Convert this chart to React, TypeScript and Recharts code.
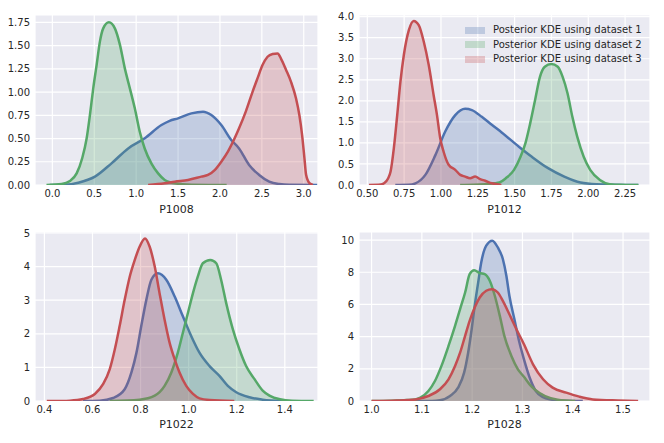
import { useMemo } from "react";
import { AreaChart, Area, XAxis, YAxis, CartesianGrid, Legend, Label } from "recharts";

const seriesNames = [
  "Posterior KDE using dataset 1",
  "Posterior KDE using dataset 2",
  "Posterior KDE using dataset 3",
];
const seriesColors = ["#4C72B0", "#55A868", "#C44E52"];

// P1008
const p1008X1 = [-0.03, 0.15, 0.31, 0.508, 0.706, 0.905, 1.103, 1.302, 1.4, 1.5, 1.659, 1.798, 1.897, 2.016, 2.135, 2.228, 2.348, 2.468, 2.588, 2.708, 2.83, 3.16];
const p1008Y1 = [0, 0.003, 0.025, 0.09, 0.233, 0.394, 0.502, 0.645, 0.69, 0.717, 0.771, 0.789, 0.753, 0.645, 0.484, 0.394, 0.215, 0.108, 0.036, 0.01, 0.002, 0];
const p1008X2 = [-0.07, 0.111, 0.21, 0.29, 0.357, 0.409, 0.448, 0.488, 0.528, 0.567, 0.607, 0.675, 0.746, 0.806, 0.865, 0.925, 0.984, 1.044, 1.103, 1.183, 1.262, 1.341, 1.46, 1.659, 2.08];
const p1008Y2 = [0, 0.01, 0.043, 0.125, 0.29, 0.5, 0.75, 1.04, 1.29, 1.54, 1.685, 1.75, 1.685, 1.51, 1.255, 1.04, 0.825, 0.57, 0.39, 0.23, 0.125, 0.054, 0.018, 0.003, 0];
const p1008X3 = [1.143, 1.341, 1.46, 1.619, 1.778, 1.857, 1.937, 2.016, 2.095, 2.175, 2.228, 2.308, 2.388, 2.448, 2.508, 2.568, 2.628, 2.688, 2.728, 2.788, 2.848, 2.908, 2.948, 2.98, 3.008, 3.028, 3.068, 3.11];
const p1008Y3 = [0, 0.018, 0.036, 0.054, 0.09, 0.108, 0.161, 0.251, 0.359, 0.502, 0.61, 0.79, 1.0, 1.147, 1.29, 1.38, 1.41, 1.416, 1.36, 1.24, 1.11, 0.93, 0.75, 0.54, 0.29, 0.11, 0.02, 0];

// P1012
const p1012X1 = [0.69, 0.78, 0.827, 0.894, 0.962, 1.029, 1.097, 1.164, 1.21, 1.277, 1.345, 1.412, 1.529, 1.617, 1.727, 1.837, 1.947, 2.057, 2.34];
const p1012Y1 = [0, 0.005, 0.04, 0.24, 0.71, 1.27, 1.66, 1.81, 1.78, 1.62, 1.43, 1.25, 0.91, 0.67, 0.4, 0.2, 0.06, 0.02, 0];
const p1012X2 = [1.13, 1.22, 1.3, 1.36, 1.397, 1.44, 1.496, 1.54, 1.573, 1.606, 1.639, 1.672, 1.705, 1.749, 1.793, 1.826, 1.859, 1.892, 1.925, 1.969, 2.013, 2.079, 2.145, 2.22, 2.34];
const p1012Y2 = [0, 0.005, 0.02, 0.04, 0.06, 0.16, 0.36, 0.67, 0.99, 1.47, 2.02, 2.57, 2.81, 2.875, 2.81, 2.57, 2.18, 1.62, 1.15, 0.67, 0.36, 0.12, 0.02, 0.003, 0];
const p1012X3 = [0.511, 0.59, 0.613, 0.64, 0.658, 0.68, 0.703, 0.725, 0.748, 0.782, 0.815, 0.849, 0.883, 0.917, 0.95, 0.973, 0.995, 1.018, 1.052, 1.097, 1.131, 1.164, 1.198, 1.232, 1.266, 1.3, 1.345, 1.41];
const p1012Y3 = [0, 0.01, 0.04, 0.15, 0.32, 0.87, 1.66, 2.46, 3.09, 3.68, 3.9, 3.8, 3.41, 2.85, 2.14, 1.66, 1.11, 0.79, 0.48, 0.36, 0.24, 0.2, 0.16, 0.2, 0.14, 0.1, 0.04, 0];

// P1022
const p1022X1 = [0.56, 0.63, 0.686, 0.734, 0.762, 0.783, 0.803, 0.824, 0.845, 0.872, 0.907, 0.942, 0.976, 1.011, 1.045, 1.087, 1.128, 1.163, 1.198, 1.253, 1.308, 1.39];
const p1022Y1 = [0, 0.01, 0.09, 0.35, 0.85, 1.44, 2.23, 3.01, 3.61, 3.8, 3.61, 3.11, 2.52, 1.93, 1.44, 1.04, 0.75, 0.45, 0.26, 0.11, 0.04, 0];
const p1022X2 = [0.672, 0.796, 0.859, 0.9, 0.928, 0.955, 0.976, 0.997, 1.018, 1.038, 1.059, 1.09, 1.115, 1.135, 1.156, 1.184, 1.211, 1.239, 1.274, 1.308, 1.336, 1.38, 1.43, 1.52];
const p1022Y2 = [0, 0.04, 0.16, 0.45, 0.85, 1.44, 2.03, 2.62, 3.21, 3.7, 4.1, 4.2, 4.1, 3.61, 2.92, 2.13, 1.54, 1.04, 0.65, 0.31, 0.16, 0.05, 0.01, 0];
const p1022X3 = [0.41, 0.47, 0.506, 0.561, 0.61, 0.644, 0.672, 0.693, 0.713, 0.734, 0.755, 0.776, 0.796, 0.8185, 0.838, 0.859, 0.879, 0.9, 0.921, 0.942, 0.962, 0.99, 1.018, 1.045, 1.087, 1.19];
const p1022Y3 = [0, 0.003, 0.01, 0.06, 0.21, 0.5, 0.95, 1.54, 2.23, 3.01, 3.7, 4.2, 4.59, 4.84, 4.59, 4.0, 3.21, 2.42, 1.73, 1.24, 0.85, 0.45, 0.21, 0.08, 0.03, 0];

// P1028
const p1028X1 = [1.08, 1.12, 1.136, 1.156, 1.172, 1.184, 1.192, 1.199, 1.205, 1.212, 1.218, 1.228, 1.24, 1.251, 1.261, 1.268, 1.274, 1.284, 1.294, 1.303, 1.315, 1.327, 1.34, 1.354, 1.385, 1.42];
const p1028Y1 = [0, 0.003, 0.04, 0.31, 0.83, 1.76, 3.0, 4.46, 5.91, 7.37, 8.6, 9.65, 9.96, 9.54, 8.82, 7.78, 6.54, 5.08, 3.63, 2.59, 1.4, 0.6, 0.25, 0.1, 0.02, 0];
const p1028X2 = [1.0, 1.04, 1.07, 1.087, 1.097, 1.113, 1.126, 1.139, 1.153, 1.166, 1.176, 1.186, 1.195, 1.204, 1.215, 1.225, 1.235, 1.245, 1.255, 1.264, 1.278, 1.291, 1.303, 1.315, 1.325, 1.345, 1.37, 1.405];
const p1028Y2 = [0, 0.02, 0.06, 0.1, 0.21, 0.62, 1.24, 2.18, 3.42, 4.67, 5.71, 6.74, 7.88, 8.13, 7.95, 7.88, 7.47, 6.54, 5.29, 4.05, 2.8, 1.97, 1.5, 1.0, 0.7, 0.3, 0.08, 0];
const p1028X3 = [1.0, 1.05, 1.087, 1.113, 1.136, 1.153, 1.166, 1.176, 1.186, 1.195, 1.205, 1.215, 1.228, 1.239, 1.251, 1.261, 1.274, 1.288, 1.303, 1.321, 1.341, 1.36, 1.387, 1.413, 1.44, 1.49, 1.53];
const p1028Y3 = [0, 0.03, 0.1, 0.31, 0.73, 1.35, 2.18, 3.0, 4.05, 4.98, 5.81, 6.43, 6.85, 6.95, 6.74, 6.22, 5.39, 4.46, 3.53, 2.28, 1.35, 0.83, 0.52, 0.27, 0.1, 0.03, 0];

// ticks
const p1008XTicks = [0, 0.5, 1, 1.5, 2, 2.5, 3];
const p1008YTicks = [0, 0.25, 0.5, 0.75, 1, 1.25, 1.5, 1.75];
const p1012XTicks = [0.5, 0.75, 1, 1.25, 1.5, 1.75, 2, 2.25];
const p1012YTicks = [0, 0.5, 1, 1.5, 2, 2.5, 3, 3.5, 4];
const p1022XTicks = [0.4, 0.6, 0.8, 1, 1.2, 1.4];
const p1022YTicks = [0, 1, 2, 3, 4, 5];
const p1028XTicks = [1, 1.1, 1.2, 1.3, 1.4, 1.5];
const p1028YTicks = [0, 2, 4, 6, 8, 10];

type Series = [number[], number[]];

// one row per x, each dataset keyed s0/s1/s2 (missing where that KDE has no sample)
function mergeSeries(series: Series[]) {
  const map = new Map<number, Record<string, number>>();
  series.forEach(([xs, ys], i) => {
    xs.forEach((x, j) => {
      const row = map.get(x) ?? { x };
      row[`s${i}`] = ys[j];
      map.set(x, row);
    });
  });
  return Array.from(map.values()).sort((a, b) => a.x - b.x);
}

const panels = [
  {
    name: "P1008",
    series: [[p1008X1, p1008Y1], [p1008X2, p1008Y2], [p1008X3, p1008Y3]] as Series[],
    xTicks: p1008XTicks, yTicks: p1008YTicks,
    xDomain: [-0.207, 3.17], yDomain: [0, 1.829],
    xDigits: 1, yDigits: 2,
    left: 0, top: 0, width: 332, height: 221,
    yAxisWidth: 35, marginTop: 15, xAxisHeight: 36, labelOffset: 8,
    legend: false,
  },
  {
    name: "P1012",
    series: [[p1012X1, p1012Y1], [p1012X2, p1012Y2], [p1012X3, p1012Y3]] as Series[],
    xTicks: p1012XTicks, yTicks: p1012YTicks,
    xDomain: [0.4436, 2.419], yDomain: [0, 4.04],
    xDigits: 2, yDigits: 1,
    left: 332, top: 0, width: 332, height: 221,
    yAxisWidth: 27, marginTop: 15, xAxisHeight: 36, labelOffset: 8,
    legend: true,
  },
  {
    name: "P1022",
    series: [[p1022X1, p1022Y1], [p1022X2, p1022Y2], [p1022X3, p1022Y3]] as Series[],
    xTicks: p1022XTicks, yTicks: p1022YTicks,
    xDomain: [0.361, 1.538], yDomain: [0, 5.03],
    xDigits: 1, yDigits: 0,
    left: 0, top: 221, width: 332, height: 222,
    yAxisWidth: 35, marginTop: 11, xAxisHeight: 42, labelOffset: 15,
    legend: false,
  },
  {
    name: "P1028",
    series: [[p1028X1, p1028Y1], [p1028X2, p1028Y2], [p1028X3, p1028Y3]] as Series[],
    xTicks: p1028XTicks, yTicks: p1028YTicks,
    xDomain: [0.975, 1.5536], yDomain: [0, 10.5],
    xDigits: 1, yDigits: 0,
    left: 332, top: 221, width: 332, height: 222,
    yAxisWidth: 27, marginTop: 11, xAxisHeight: 42, labelOffset: 15,
    legend: false,
  },
];

const textColor = "#262626";

const renderLegend = () => (
  <div style={{ fontSize: 10, color: textColor, lineHeight: "14.6px" }}>
    {seriesNames.map((n, i) => (
      <div key={n} style={{ display: "flex", alignItems: "center", whiteSpace: "nowrap" }}>
        <span
          style={{
            display: "inline-block",
            width: 20,
            height: 7,
            background: seriesColors[i],
            opacity: 0.28,
            marginRight: 8,
          }}
        />
        {n}
      </div>
    ))}
  </div>
);

function Panel({ p }: { p: (typeof panels)[number] }) {
  const rows = useMemo(() => mergeSeries(p.series), [p]);
  return (
    <div style={{ position: "absolute", left: p.left, top: p.top }}>
      <AreaChart
        width={p.width}
        height={p.height}
        data={rows}
        margin={{ top: p.marginTop, right: 14, bottom: 0, left: 0 }}
      >
        <CartesianGrid fill="#EAEAF2" fillOpacity={1} stroke="#FFFFFF" strokeWidth={1.2} />
        <XAxis
          dataKey="x"
          type="number"
          domain={p.xDomain}
          ticks={p.xTicks}
          allowDataOverflow
          interval={0}
          tickFormatter={(v: number) => v.toFixed(p.xDigits)}
          axisLine={false}
          tickLine={false}
          tickSize={0}
          tickMargin={5}
          height={p.xAxisHeight}
          tick={{ fontSize: 10, fill: textColor }}
        >
          <Label value={p.name} position="insideBottom" offset={p.labelOffset} fontSize={11} fill={textColor} />
        </XAxis>
        <YAxis
          type="number"
          domain={p.yDomain}
          ticks={p.yTicks}
          allowDataOverflow
          interval={0}
          tickFormatter={(v: number) => v.toFixed(p.yDigits)}
          axisLine={false}
          tickLine={false}
          tickSize={0}
          tickMargin={5}
          width={p.yAxisWidth}
          tick={{ fontSize: 10, fill: textColor }}
        />
        {seriesColors.map((c, i) => (
          <Area
            key={c}
            type="monotone"
            dataKey={`s${i}`}
            name={seriesNames[i]}
            stroke={c}
            strokeWidth={2.5}
            fill={c}
            fillOpacity={0.25}
            connectNulls
            dot={false}
            activeDot={false}
            isAnimationActive={false}
          />
        ))}
        {p.legend && (
          <Legend
            layout="vertical"
            align="center"
            verticalAlign="middle"
            content={renderLegend}
            wrapperStyle={{ left: 133, top: 23, width: 190, height: 45 }}
          />
        )}
      </AreaChart>
    </div>
  );
}

export default function App() {
  return (
    <div
      style={{
        position: "absolute",
        left: 0,
        top: 0,
        width: 664,
        height: 443,
        background: "#FFFFFF",
        fontFamily: "'DejaVu Sans', sans-serif",
      }}
    >
      {panels.map((p) => (
        <Panel key={p.name} p={p} />
      ))}
    </div>
  );
}
